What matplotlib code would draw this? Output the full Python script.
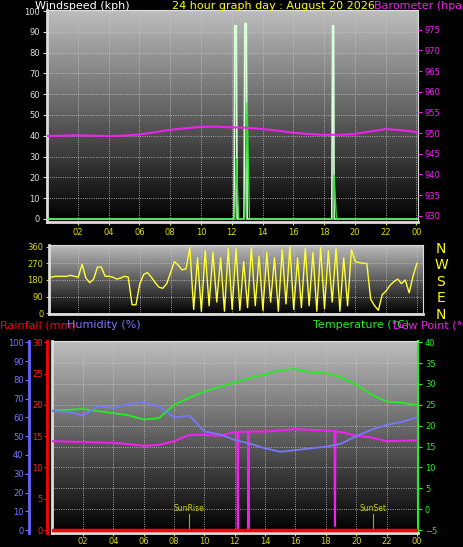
import matplotlib
matplotlib.use('Agg')
import matplotlib.pyplot as plt
import numpy as np

# ---- data ----
hours = list(range(25))
baro = [949.3, 949.4, 949.5, 949.4, 949.3, 949.4, 949.7, 950.2, 950.8, 951.2, 951.5, 951.6,
        951.4, 951.3, 951.0, 950.6, 950.1, 949.8, 949.6, 949.6, 949.8, 950.4, 951.0, 950.7, 950.3]
gust_t = [0, 12.15, 12.2, 12.3, 12.35, 12.8, 12.85, 12.95, 13.0, 18.5, 18.55, 18.62, 18.65, 24.1]
gust_v = [0, 0, 93, 93, 0, 0, 94, 94, 0, 0, 93, 93, 0, 0]
speed_t = [0, 12.2, 12.3, 12.45, 12.85, 13.0, 13.15, 18.6, 18.65, 18.8, 24.1]
speed_v = [0, 0, 29, 0, 0, 56, 0, 0, 21, 0, 0]
wdir = [185, 195, 200, 200, 200, 200, 205, 200, 195, 265, 190, 165, 185, 250, 250, 200,
        200, 195, 185, 190, 200, 195, 45, 45, 160, 210, 220, 195, 165, 140, 135, 160,
        220, 280, 260, 235, 240, 355, 20, 300, 10, 340, 40, 330, 60, 300, 10, 350,
        20, 350, 15, 280, 30, 355, 40, 310, 15, 330, 60, 300, 10, 345, 50, 360,
        20, 300, 30, 350, 40, 330, 10, 355, 25, 340, 60, 350, 10, 300, 40, 345,
        280, 275, 270, 270, 75, 40, 15, 100, 120, 150, 170, 185, 160, 180, 110, 200, 270]
temp = [23.7, 23.8, 24.0, 23.5, 23.0, 22.5, 21.5, 21.8, 25.0, 26.7, 28.2, 29.3, 30.4, 31.4,
        32.3, 33.3, 33.6, 32.8, 32.6, 31.6, 29.8, 27.5, 25.8, 25.5, 25.0]
humid = [63.4, 63.0, 61.0, 66.0, 65.0, 67.0, 68.0, 66.0, 60.0, 61.0, 52.5, 51.0, 48.0, 46.0,
         43.5, 41.7, 42.6, 43.5, 44.4, 46.0, 50.0, 53.4, 56.0, 57.6, 60.0]
dew = [16.3, 16.2, 16.1, 16.0, 15.9, 15.6, 15.2, 15.4, 16.3, 17.8, 17.8, 17.6, 18.5, 18.6,
       18.6, 18.9, 19.2, 19.0, 18.9, 18.5, 17.6, 17.2, 16.3, 16.4, 16.5]
dew_drop_t = [12.2, 12.9, 18.6]
dew_drop_v = [-5.0, -5.0, -4.0]
rain = [0.0] * 25
sunrise, sunset = 9.0, 21.1
xt = list(range(2, 25, 2))
xtl = ['02', '04', '06', '08', '10', '12', '14', '16', '18', '20', '22', '00']

W, H = 464, 547
fig = plt.figure(figsize=(W / 100, H / 100), dpi=100, facecolor='black')

def pax(x0, y0, x1, y1):
    return fig.add_axes([x0 / W, 1 - y1 / H, (x1 - x0) / W, (y1 - y0) / H])

grad = np.linspace(1, 0, 200).reshape(-1, 1)

def style(ax, xlim, ylim):
    ax.set_facecolor('black')
    ax.imshow(grad, aspect='auto', cmap='gray', vmin=0, vmax=1.35, extent=[0, 1, 0, 1],
              transform=ax.transAxes, zorder=0)
    ax.set_xlim(*xlim)
    ax.set_ylim(*ylim)
    ax.grid(True, color='#c8c8c8', linestyle=':', linewidth=0.6)
    for s in ax.spines.values():
        s.set_color('#dddddd')
    ax.spines['left'].set_linewidth(2)
    ax.spines['bottom'].set_linewidth(2)

# ---- top: wind speed / barometer ----
ax1 = pax(47, 10, 418, 222)
style(ax1, (0, 24.1), (-1.5, 100.5))
ax1.plot(gust_t, gust_v, color='#d8ffd8', lw=1.2, zorder=3)
ax1.plot(speed_t, speed_v, color='#33dd33', lw=1.0, zorder=4)
ax1.set_yticks(range(0, 101, 10))
ax1.set_xticks(xt)
ax1.set_xticklabels(xtl)
ax1.tick_params(axis='y', colors='#dddddd', labelsize=6, length=3, pad=2)
ax1.tick_params(axis='x', colors='#dddd00', labelsize=6, length=2, pad=2)
ax1b = ax1.twinx()
ax1b.set_ylim(928.5, 979.8)
ax1b.plot(hours, baro, color='#ee22ee', lw=1.5)
ax1b.set_yticks(range(930, 976, 5))
ax1b.tick_params(axis='y', colors='#ee22ee', labelsize=6, length=3, pad=2)
for s in ax1b.spines.values():
    s.set_visible(False)
fig.text(35 / W, 1 - 1 / H, 'Windspeed (kph)', color='white', fontsize=8, va='top')
fig.text(172 / W, 1 - 1 / H, '24 hour graph day : August 20 2026', color='#ffff00', fontsize=8, va='top')
fig.text(374 / W, 1 - 1 / H, 'Barometer (hpa)', color='#ee22ee', fontsize=8, va='top')

# ---- middle: wind direction ----
ax2 = pax(49, 245, 423, 314)
style(ax2, (0.1, 24.4), (-5, 370))
ax2.plot(np.arange(len(wdir)) * 0.25, wdir, color='#ffff33', lw=1.0, zorder=3)
ax2.set_yticks([0, 90, 180, 270, 360])
ax2.set_xticks(xt)
ax2.tick_params(axis='y', colors='#dddd00', labelsize=6, length=2, pad=2)
ax2.tick_params(axis='x', length=0, labelbottom=False)
for i, c in enumerate('NWSEN'):
    fig.text(441 / W, 1 - (249 + i * 16.5) / H, c, color='#ffff00', fontsize=10, ha='center', va='center')

# ---- bottom: temperature / humidity / rain ----
ax3 = pax(52, 341, 418, 533)
style(ax3, (-0.04, 24.07), (-5.7, 40.3))
ax3.plot(hours, temp, color='#22ee22', lw=1.3, zorder=3)
dt = hours + dew_drop_t
dv = dew + dew_drop_v
order = np.argsort(dt, kind='stable')
dt_s, dv_s = [], []
for i in order:
    t, v = dt[i], dv[i]
    if v < 0:
        dt_s += [t - 0.03, t, t + 0.03]
        dv_s += [np.interp(t, hours, dew), v, np.interp(t, hours, dew)]
    else:
        dt_s.append(t)
        dv_s.append(v)
ax3.plot(dt_s, dv_s, color='#ee22ee', lw=1.5, zorder=3)
ax3.set_xticks(xt)
ax3.set_xticklabels(xtl)
ax3.tick_params(axis='x', colors='#dddd00', labelsize=6, length=2, pad=1)
for t, lab in [(sunrise, 'SunRise'), (sunset, 'SunSet')]:
    ax3.plot([t, t], [-5, -1.2], color='#aaaa00', lw=0.8, zorder=3)
    ax3.text(t, -0.8, lab, color='#cccc00', fontsize=5.5, ha='center', va='bottom', zorder=4)

axh = ax3.twinx()
axh.set_ylim(-0.7 * 100 / 45, 100 + 0.3 * 100 / 45)
axh.plot(hours, humid, color='#7777ff', lw=1.3, zorder=3)
axh.yaxis.tick_left()
axh.spines['left'].set_position(('outward', 16.5))
axh.spines['left'].set_color('#6666ff')
axh.spines['left'].set_linewidth(2)
axh.set_yticks(range(0, 101, 10))
axh.tick_params(axis='y', colors='#7777ff', labelsize=6, length=3, pad=1,
                labelleft=True, labelright=False)
for k in ['right', 'top', 'bottom']:
    axh.spines[k].set_visible(False)

axr = ax3.twinx()
axr.set_ylim(-0.7 * 30 / 45, 30 + 0.3 * 30 / 45)
axr.plot(hours, rain, color='#ff0000', lw=2.5, zorder=4)
axr.yaxis.tick_left()
axr.spines['left'].set_position(('outward', 3.6))
axr.spines['left'].set_color('#ff0000')
axr.spines['left'].set_linewidth(2)
axr.set_yticks(range(0, 31, 5))
axr.tick_params(axis='y', colors='#ff2222', labelsize=6, length=2, pad=1,
                labelleft=True, labelright=False)
for k in ['right', 'top', 'bottom']:
    axr.spines[k].set_visible(False)

# temperature ticks on the right (after twinx, which resets ax3 to the left)
ax3.yaxis.tick_right()
ax3.set_yticks(range(-5, 41, 5))
ax3.tick_params(axis='y', colors='#22ee22', labelsize=6, length=3, pad=2,
                labelleft=False, labelright=True)
ax3.spines['right'].set_color('#22ee22')
ax3.spines['right'].set_linewidth(1.5)

fig.text(0, 1 - 320 / H, 'Rainfall (mm)', color='#ff0000', fontsize=8, va='top')
fig.text(67 / W, 1 - 320 / H, 'Humidity (%)', color='#7777ff', fontsize=8, va='top')
fig.text(313 / W, 1 - 320 / H, 'Temperature (°C)', color='#22ee22', fontsize=8, va='top')
fig.text(393 / W, 1 - 320 / H, 'Dew Point (°C)', color='#ee22ee', fontsize=8, va='top')

fig.savefig('out.png', dpi=100, facecolor='black')
